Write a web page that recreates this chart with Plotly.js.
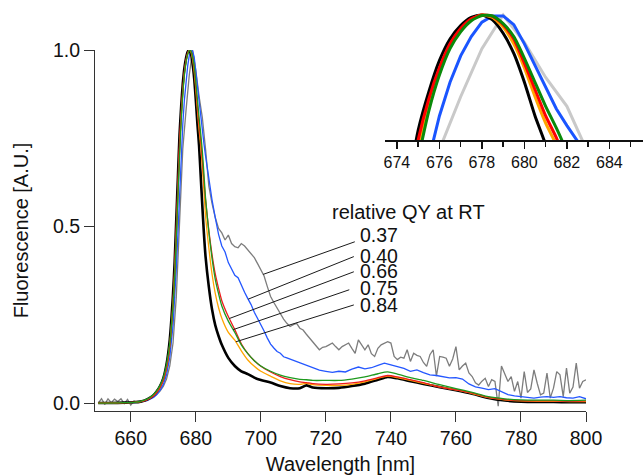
<!DOCTYPE html>
<html>
<head>
<meta charset="utf-8">
<script src="https://cdn.plot.ly/plotly-3.0.1.min.js"></script>
<style>html,body{margin:0;padding:0;background:#fff;}#chart{width:643px;height:475px;}</style>
</head>
<body>
<div id="chart"></div>
<script>
// ---------- data ----------
const xSmooth = [650, 654, 658, 661, 663, 665, 667, 668, 669, 670, 671, 672, 673, 673.5, 674, 674.5, 675, 675.5, 676, 676.5,
  677, 677.5, 678, 678.5, 679, 679.5, 680, 680.5, 681, 681.5, 682, 682.5, 683, 684, 685, 686, 687, 688, 690, 692,
  694, 696, 698, 700, 703, 706, 709, 712, 714, 716, 720, 724, 728, 732, 736, 739, 742, 746, 750, 755,
  760, 765, 770, 775, 780, 785, 790, 795, 800];

const blackY = [0.0, 0.0, 0.001, 0.002, 0.004, 0.01, 0.022, 0.033, 0.048, 0.07, 0.11, 0.18, 0.31, 0.4, 0.52, 0.64, 0.76, 0.84, 0.905, 0.95,
  0.978, 0.995, 1.0, 0.99, 0.962, 0.92, 0.86, 0.79, 0.73, 0.645, 0.56, 0.48, 0.415, 0.33, 0.265, 0.22, 0.19, 0.165, 0.128, 0.105,
  0.09, 0.082, 0.072, 0.065, 0.058, 0.048, 0.042, 0.042, 0.05, 0.044, 0.042, 0.043, 0.048, 0.055, 0.066, 0.074, 0.07, 0.062, 0.054, 0.045,
  0.036, 0.026, 0.014, 0.007, 0.004, 0.003, 0.003, 0.002, 0.002];

const orangeY = [0.0, 0.0, 0.001, 0.002, 0.004, 0.01, 0.021, 0.031, 0.045, 0.066, 0.1, 0.165, 0.28, 0.37, 0.48, 0.6, 0.72, 0.81, 0.88, 0.935,
  0.97, 0.99, 1.0, 0.995, 0.975, 0.94, 0.89, 0.83, 0.775, 0.73, 0.67, 0.6, 0.53, 0.44, 0.365, 0.31, 0.27, 0.24, 0.2, 0.178,
  0.148, 0.122, 0.104, 0.09, 0.076, 0.063, 0.055, 0.053, 0.056, 0.052, 0.05, 0.05, 0.053, 0.06, 0.07, 0.076, 0.072, 0.064, 0.056, 0.046,
  0.037, 0.027, 0.015, 0.009, 0.006, 0.005, 0.005, 0.004, 0.004];

const redY = [0.0, 0.0, 0.001, 0.002, 0.004, 0.009, 0.02, 0.03, 0.044, 0.065, 0.1, 0.165, 0.29, 0.38, 0.5, 0.62, 0.74, 0.825, 0.89, 0.94,
  0.972, 0.992, 1.0, 0.997, 0.98, 0.95, 0.9, 0.845, 0.79, 0.745, 0.69, 0.63, 0.575, 0.49, 0.42, 0.365, 0.325, 0.29, 0.245, 0.208,
  0.168, 0.14, 0.12, 0.104, 0.088, 0.075, 0.066, 0.06, 0.058, 0.055, 0.053, 0.054, 0.057, 0.063, 0.072, 0.078, 0.074, 0.066, 0.058, 0.045,
  0.037, 0.028, 0.016, 0.01, 0.007, 0.006, 0.006, 0.005, 0.006];

const greenY = [0.0, 0.0, 0.001, 0.002, 0.005, 0.011, 0.024, 0.035, 0.05, 0.072, 0.11, 0.17, 0.28, 0.36, 0.47, 0.59, 0.7, 0.8, 0.875, 0.93,
  0.965, 0.988, 0.999, 0.998, 0.982, 0.955, 0.91, 0.86, 0.81, 0.765, 0.715, 0.65, 0.58, 0.485, 0.41, 0.35, 0.31, 0.275, 0.232, 0.2,
  0.165, 0.14, 0.12, 0.105, 0.09, 0.079, 0.072, 0.067, 0.066, 0.064, 0.064, 0.064, 0.068, 0.074, 0.083, 0.088, 0.082, 0.072, 0.064, 0.052,
  0.041, 0.03, 0.018, 0.012, 0.009, 0.008, 0.008, 0.007, 0.008];

const xBlue = [650, 654, 658, 661, 663, 665, 667, 668, 669, 670, 671, 672, 673, 673.5, 674, 674.5, 675, 675.5, 676, 676.5,
  677, 677.5, 678, 678.5, 679, 679.5, 680, 680.5, 681, 681.5, 682, 682.5, 683,
  684, 685, 686, 687, 688, 689, 690, 691, 692, 693, 694, 695, 696, 697, 698, 699, 700, 701, 702, 703, 704, 705, 706, 707, 708,
  710, 712, 714, 716, 718, 720, 722, 724, 726, 728, 730, 732, 734, 736, 738, 740, 742, 744, 746, 748,
  750, 752, 754, 756, 758, 760, 762, 764, 766, 768, 770, 772, 774, 776, 778, 780, 782, 784, 786, 788,
  790, 792, 794, 796, 798, 800];

const blueY = [0.0, 0.0, 0.001, 0.001, 0.003, 0.007, 0.016, 0.024, 0.036, 0.052, 0.08, 0.13, 0.22, 0.29, 0.38, 0.48, 0.59, 0.7, 0.79, 0.86,
  0.915, 0.955, 0.985, 0.998, 0.998, 0.98, 0.94, 0.895, 0.85, 0.805, 0.77, 0.735, 0.7,
  0.63, 0.575, 0.525, 0.478, 0.445, 0.428, 0.398, 0.38, 0.362, 0.355, 0.333, 0.314, 0.296, 0.279, 0.257, 0.24, 0.22, 0.204, 0.184, 0.167, 0.156, 0.146, 0.141, 0.131, 0.128,
  0.121, 0.112, 0.107, 0.1, 0.093, 0.09, 0.087, 0.09, 0.088, 0.096, 0.102, 0.097, 0.1, 0.107, 0.113, 0.108, 0.104, 0.098, 0.09, 0.094,
  0.086, 0.08, 0.078, 0.074, 0.071, 0.072, 0.068, 0.054, 0.046, 0.042, 0.038, 0.041, 0.032, 0.024, 0.02, 0.018, 0.016, 0.014, 0.017, 0.018,
  0.016, 0.018, 0.015, 0.014, 0.018, 0.012];

const xGray = [650, 651, 652, 653, 654, 655, 656, 657, 658, 659, 660, 661, 662, 663, 664, 665, 666, 667, 668, 669,
  670, 671, 672, 673, 674, 675, 676, 677, 678, 679, 680, 681, 682, 683, 684, 685, 686, 687, 688, 689,
  690, 691, 692, 693, 694, 695, 696, 697, 698, 699, 700, 701, 702, 703, 704, 705, 706, 707, 708, 709,
  710, 711, 712, 713, 714, 715, 716, 717, 718, 719, 720, 721, 722, 723, 724, 725, 726, 727, 728, 729,
  730, 731, 732, 733, 734, 735, 736, 737, 738, 739, 740, 741, 742, 743, 744, 745, 746, 747, 748, 749,
  750, 751, 752, 753, 754, 755, 756, 757, 758, 759, 760, 761, 762, 763, 764, 765, 766, 767, 768, 769,
  770, 771, 772, 773, 774, 775, 776, 777, 778, 779, 780, 781, 782, 783, 784, 785, 786, 787, 788, 789,
  790, 791, 792, 793, 794, 795, 796, 797, 798, 799, 800];

const grayY = [0.0, 0.012, -0.004, 0.012, 0.001, 0.011, 0.004, 0.012, -0.002, 0.01, -0.006, 0.006, 0.002, 0.004, 0.006, 0.008, 0.013, 0.017, 0.025, 0.034,
  0.047, 0.068, 0.105, 0.17, 0.3, 0.5, 0.72, 0.83, 0.93, 1.0, 0.943, 0.87, 0.81, 0.72, 0.615, 0.565, 0.525, 0.495, 0.482, 0.462,
  0.476, 0.452, 0.443, 0.44, 0.452, 0.445, 0.434, 0.425, 0.412, 0.395, 0.375, 0.36, 0.33, 0.302, 0.285, 0.268, 0.252, 0.238, 0.226, 0.217,
  0.222, 0.226, 0.212, 0.207, 0.195, 0.184, 0.172, 0.16, 0.151, 0.158, 0.16, 0.165, 0.17, 0.16, 0.151, 0.16, 0.165, 0.17, 0.155, 0.141,
  0.179, 0.165, 0.151, 0.165, 0.14, 0.132, 0.155, 0.165, 0.17, 0.174, 0.17, 0.132, 0.123, 0.13, 0.127, 0.151, 0.118, 0.141, 0.135, 0.132,
  0.115, 0.104, 0.137, 0.151, 0.076, 0.132, 0.13, 0.127, 0.104, 0.125, 0.16, 0.094, 0.105, 0.113, 0.085, 0.075, 0.057, 0.051, 0.062, 0.07,
  0.047, 0.066, 0.061, -0.009, 0.105, 0.082, 0.061, 0.075, 0.033, 0.061, 0.014, 0.089, 0.03, 0.04, 0.094, 0.056, 0.023, 0.028, 0.085, 0.014,
  0.042, 0.089, 0.08, 0.018, 0.099, 0.028, 0.045, 0.113, 0.042, 0.061, 0.066];

// tick labels
const xTicks = [660, 680, 700, 720, 740, 760, 780, 800];
const yTicks = [0, 0.5, 1.0];
const yTickText = ['0.0', '0.5', '1.0'];
const insetTicks = [674, 676, 678, 680, 682, 684];

// legend-like labels
const legendTitle = 'relative QY at RT';
const qyLabels = ['0.37', '0.40', '0.66', '0.75', '0.84'];

// ---------- styling ----------
const FONT = 'Liberation Sans, Arial, Helvetica, sans-serif';
const series = [
  {x: xGray,   y: grayY,   color: '#7d7d7d', ic: '#c9c9c9', w: 1.3, iw: 3,   shape: 'linear'},
  {x: xBlue,   y: blueY,   color: '#2457ff', ic: '#1a55ff', w: 1.3, iw: 3,   shape: 'linear'},
  {x: xSmooth, y: blackY,  color: '#000000', ic: '#000000', w: 2.6, iw: 3,   shape: 'spline'},
  {x: xSmooth, y: orangeY, color: '#ffa500', ic: '#ffa500', w: 1.3, iw: 3,   shape: 'spline'},
  {x: xSmooth, y: redY,    color: '#ee1c1c', ic: '#ff0000', w: 1.3, iw: 3,   shape: 'spline'},
  {x: xSmooth, y: greenY,  color: '#1e9a1e', ic: '#0a8a0a', w: 1.3, iw: 3,   shape: 'spline'}
];

const traces = [];
series.forEach(s => {
  traces.push({x: s.x, y: s.y, type: 'scatter', mode: 'lines', xaxis: 'x', yaxis: 'y',
    line: {color: s.color, width: s.w, shape: s.shape, smoothing: 0.6}, hoverinfo: 'skip'});
});
series.forEach(s => {
  traces.push({x: s.x, y: s.y, type: 'scatter', mode: 'lines', xaxis: 'x2', yaxis: 'y2',
    line: {color: s.ic, width: s.iw, shape: s.shape, smoothing: 0.6}, hoverinfo: 'skip'});
});

function interp(xs, ys, x) {
  for (let i = 0; i < xs.length - 1; i++) {
    if (x >= xs[i] && x <= xs[i + 1]) {
      const t = (x - xs[i]) / (xs[i + 1] - xs[i]);
      return ys[i] + t * (ys[i + 1] - ys[i]);
    }
  }
  return ys[ys.length - 1];
}

// leader lines: which series each label points at, where it touches, where it ends
const leaderSeries = [0, 1, 4, 5, 3];
const leaderStartX = [700.7, 696.1, 690.3, 691.5, 692.3];
const leaderEndX = [728.9, 728.6, 728.6, 727.2, 728.6];
const leaderEndY = [0.457, 0.415, 0.372, 0.321, 0.278];
const labelYpx = [235, 255.7, 271, 287.7, 305];

const shapes = leaderSeries.map((si, i) => {
  const s = series[si];
  return {type: 'line', xref: 'x', yref: 'y',
    x0: leaderStartX[i], y0: interp(s.x, s.y, leaderStartX[i]),
    x1: leaderEndX[i], y1: leaderEndY[i],
    line: {color: '#1a1a1a', width: 1}};
});

const W = 643, H = 475;
const annotations = [{
  text: legendTitle, xref: 'paper', yref: 'paper', x: 330 / W, y: 1 - 212 / H,
  xanchor: 'left', yanchor: 'middle', showarrow: false, font: {family: FONT, size: 20, color: '#111'}
}];
qyLabels.forEach((t, i) => {
  annotations.push({text: t, xref: 'paper', yref: 'paper', x: 359 / W, y: 1 - labelYpx[i] / H,
    xanchor: 'left', yanchor: 'middle', showarrow: false, borderpad: 0,
    font: {family: FONT, size: 19.5, color: '#111'}});
});

const layout = {
  width: W, height: H,
  margin: {l: 0, r: 0, t: 0, b: 0},
  paper_bgcolor: '#ffffff', plot_bgcolor: 'rgba(0,0,0,0)',
  showlegend: false,
  font: {family: FONT, size: 19.5, color: '#111'},
  xaxis: {
    domain: [95 / W, 586 / W], range: [649, 800], anchor: 'y',
    tickvals: xTicks, ticks: 'outside', ticklen: 10, tickwidth: 1, tickcolor: '#333',
    showline: true, linecolor: '#333', linewidth: 1, showgrid: false, zeroline: false,
    tickfont: {family: FONT, size: 19.5, color: '#111'},
    title: {text: 'Wavelength [nm]', font: {family: FONT, size: 20, color: '#111'}, standoff: 9}
  },
  yaxis: {
    domain: [(H - 411) / H, (H - 50) / H], range: [-0.0226, 1.0005], anchor: 'x',
    tickvals: yTicks, ticktext: yTickText, ticks: 'outside', ticklen: 10, tickwidth: 1, tickcolor: '#333',
    showline: true, linecolor: '#333', linewidth: 1, showgrid: false, zeroline: false,
    tickfont: {family: FONT, size: 19.5, color: '#111'},
    title: {text: 'Fluorescence [A.U.]', font: {family: FONT, size: 20, color: '#111'}, standoff: 18}
  },
  xaxis2: {
    domain: [385 / W, 1], range: [673.44, 685.58], anchor: 'y2',
    tickvals: insetTicks, ticks: 'outside', ticklen: 7, tickwidth: 1.5, tickcolor: '#111',
    minor: {dtick: 1, tick0: 673, ticks: 'outside', ticklen: 5, tickwidth: 1.5, tickcolor: '#111', showgrid: false},
    showline: true, linecolor: '#111', linewidth: 2, showgrid: false, zeroline: false,
    tickfont: {family: FONT, size: 16, color: '#111'}
  },
  yaxis2: {
    domain: [(H - 140) / H, (H - 5) / H], range: [0.74, 1.0208], anchor: 'x2',
    visible: false
  },
  shapes: shapes,
  annotations: annotations
};

Plotly.newPlot('chart', traces, layout, {staticPlot: true, displayModeBar: false});
</script>
</body>
</html>
